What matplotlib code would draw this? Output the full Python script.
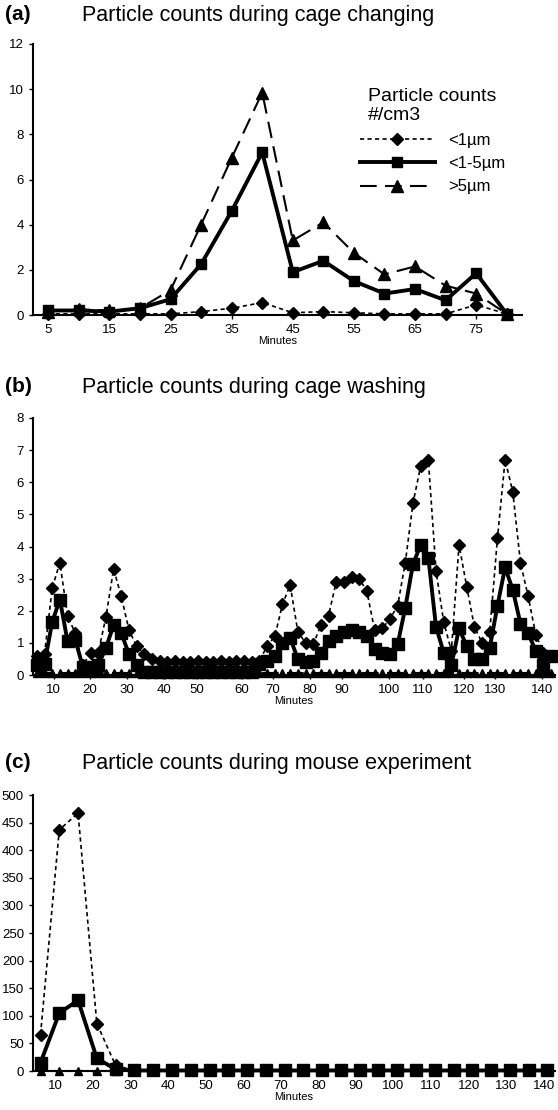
import matplotlib
matplotlib.use("Agg")
import matplotlib.pyplot as plt
import numpy as np

plt.rcParams['font.family'] = ['Liberation Sans', 'DejaVu Sans']

# (a) cage changing
a_minutes = [5, 10, 15, 20, 25, 30, 35, 40, 45, 50, 55, 60, 65, 70, 75, 80]
a_small = [0.05, 0.05, 0.05, 0.05, 0.05, 0.15, 0.3, 0.55, 0.1, 0.15, 0.1, 0.05, 0.05, 0.05, 0.45, 0.05]
a_mid = [0.2, 0.2, 0.15, 0.3, 0.7, 2.25, 4.6, 7.2, 1.9, 2.4, 1.5, 0.95, 1.15, 0.65, 1.85, 0.05]
a_large = [0.15, 0.25, 0.2, 0.3, 1.1, 4.0, 6.95, 9.85, 3.3, 4.1, 2.75, 1.8, 2.15, 1.3, 0.95, 0.05]
a_ticks = [5, 15, 25, 35, 45, 55, 65, 75]

# (b) cage washing (category axis)
b_small = [0.6, 0.65, 2.7, 3.5, 1.85, 1.3, 0.3, 0.7, 0.7, 1.8, 3.3, 2.45, 1.4, 0.9, 0.65, 0.5,
           0.45, 0.4, 0.45, 0.4, 0.4, 0.45, 0.4, 0.4, 0.45, 0.4, 0.45, 0.45, 0.4, 0.45,
           0.9, 1.2, 2.2, 2.8, 1.35, 1.0, 0.95, 1.55, 1.85, 2.9, 2.9, 3.05, 3.0, 2.6, 1.4, 1.45,
           1.75, 2.15, 3.5, 5.35, 6.5, 6.7, 3.25, 1.65, 0.75, 4.05, 2.75, 1.5, 1.0, 1.35, 4.25,
           6.7, 5.7, 3.5, 2.45, 1.25, 0.7, 0.6]
b_mid = [0.3, 0.35, 1.65, 2.35, 1.05, 1.1, 0.25, 0.25, 0.3, 0.85, 1.55, 1.3, 0.65, 0.3, 0.1, 0.1,
         0.1, 0.1, 0.1, 0.1, 0.1, 0.1, 0.1, 0.1, 0.1, 0.1, 0.1, 0.1, 0.1, 0.35,
         0.45, 0.6, 1.0, 1.15, 0.5, 0.4, 0.45, 0.7, 1.05, 1.2, 1.35, 1.4, 1.35, 1.2, 0.8, 0.7,
         0.65, 0.95, 2.1, 3.45, 4.05, 3.65, 1.5, 0.7, 0.3, 1.45, 0.9, 0.5, 0.5, 0.85, 2.15,
         3.35, 2.65, 1.6, 1.3, 0.75, 0.3, 0.6]
b_large = [0.05] * len(b_small)
b_tick_pos = [2.2, 6.9, 11.7, 16.6, 20.9, 26.7, 30.7, 35.6, 39.7, 45.9, 50.3, 55.6, 59.7, 65.8]
b_tick_lab = [10, 20, 30, 40, 50, 60, 70, 80, 90, 100, 110, 120, 130, 140]

# (c) mouse experiment
c_minutes = list(range(6, 142, 5))
c_small = [66, 437, 467, 86, 10] + [1] * (len(c_minutes) - 5)
c_mid = [15, 105, 128, 23, 3] + [1] * (len(c_minutes) - 5)
c_large = [0.5] * len(c_minutes)
c_ticks = list(range(10, 141, 10))

fig = plt.figure(figsize=(5.58, 11.1), dpi=100)
W, H = 558, 1110


def make_ax(left, top, right, bottom):
    return fig.add_axes([left / W, 1 - bottom / H, (right - left) / W, (bottom - top) / H])


def style(ax):
    for s in ("top", "right"):
        ax.spines[s].set_visible(False)
    ax.spines["left"].set_linewidth(1.5)
    ax.spines["bottom"].set_linewidth(1.5)
    ax.tick_params(labelsize=9.5, length=3, width=1, direction="out")
    ax.set_xlabel("Minutes", fontsize=8, labelpad=0)


def draw(ax, x, s, m, l, ms=(6, 7, 8)):
    ax.plot(x, s, color="black", ls=(0, (2.5, 2)), lw=1.2, marker="D", ms=ms[0],
            label="<1\u00b5m", clip_on=False)
    ax.plot(x, m, color="black", ls="-", lw=2.8, marker="s", ms=ms[1],
            label="<1-5\u00b5m", clip_on=False)
    ax.plot(x, l, color="black", ls=(0, (8, 4)), lw=1.5, marker="^", ms=ms[2],
            label=">5\u00b5m", clip_on=False)


# panel a
ax = make_ax(33, 44, 522, 315)
draw(ax, a_minutes, a_small, a_mid, a_large)
ax.set_xlim(2.5, 82.5)
ax.set_ylim(0, 12)
ax.set_yticks(range(0, 13, 2))
ax.set_xticks(a_ticks)
style(ax)
leg = ax.legend(title="Particle counts\n#/cm3", loc="upper right", frameon=False,
                fontsize=12, title_fontsize=14, handlelength=4.5, borderaxespad=0.6,
                bbox_to_anchor=(1.0, 0.9))
leg._legend_box.align = "center"
fig.text(5 / W, 1 - 15 / H, "(a)", fontsize=15, weight="bold", va="center")
fig.text(82 / W, 1 - 15 / H, "Particle counts during cage changing", fontsize=15.5, va="center")

# panel b
ax = make_ax(33, 418, 555, 675)
bx = np.arange(len(b_small))
draw(ax, bx, b_small, b_mid, b_large, ms=(6.5, 9, 6))
ax.set_xlim(-0.5, len(b_small) - 0.5)
ax.set_ylim(0, 8)
ax.set_yticks(range(0, 9))
ax.set_xticks(b_tick_pos)
ax.set_xticklabels(b_tick_lab)
style(ax)
fig.text(5 / W, 1 - 387 / H, "(b)", fontsize=15, weight="bold", va="center")
fig.text(82 / W, 1 - 387 / H, "Particle counts during cage washing", fontsize=15.5, va="center")

# panel c
ax = make_ax(33, 795, 555, 1071)
draw(ax, c_minutes, c_small, c_mid, c_large, ms=(6.5, 9, 6))
ax.set_xlim(4, 143)
ax.set_ylim(0, 500)
ax.set_yticks(range(0, 501, 50))
ax.set_xticks(c_ticks)
style(ax)
fig.text(5 / W, 1 - 763 / H, "(c)", fontsize=15, weight="bold", va="center")
fig.text(82 / W, 1 - 763 / H, "Particle counts during mouse experiment", fontsize=15.5, va="center")

fig.savefig("out.png", dpi=100)
